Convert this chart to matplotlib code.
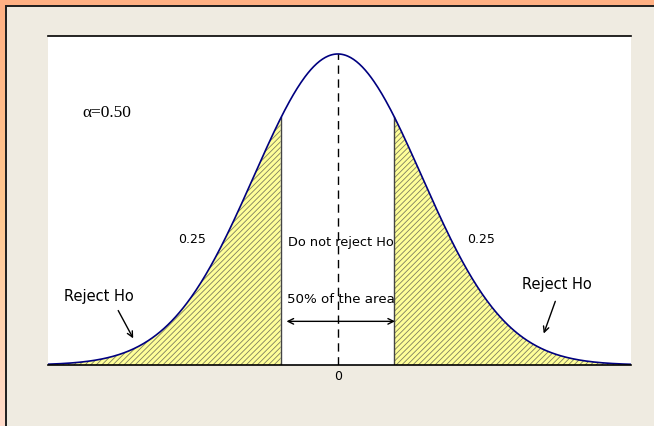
import numpy as np
import matplotlib
matplotlib.use("Agg")
import matplotlib.pyplot as plt
from matplotlib.patches import Rectangle
from matplotlib.colors import LinearSegmentedColormap

# Two-tailed test, alpha = 0.50 split evenly between the tails
alpha      = 0.50
tail_area  = [0.25, 0.25]
z_crit     = 0.674
x_range    = [-3.45, 3.49]
tick_vals  = [0]
tick_labs  = ['0']

x   = np.linspace(x_range[0], x_range[1], 600)
pdf = np.exp(-x**2 / 2) / np.sqrt(2 * np.pi)

plt.rcParams['hatch.color'] = '#7E7E60'
plt.rcParams['hatch.linewidth'] = 0.6

fig = plt.figure(figsize=(6.54, 4.27), dpi=100)

# orange border fading towards the bottom
bg = fig.add_axes([0, 0, 1, 1], zorder=-20)
bg.axis('off')
border = LinearSegmentedColormap.from_list('border', ['#FFB083', '#FFC890', '#FFDCCB'])
bg.imshow(np.linspace(0, 1, 256)[:, None], aspect='auto', cmap=border,
          extent=[0, 1, 0, 1], origin='upper')

# beige panel behind the plot
panel = Rectangle((6 / 654, -0.01), 1, 1.01 - 7 / 427, transform=fig.transFigure,
                  facecolor='#EFEBE1', edgecolor='#1E1E1E', linewidth=1.4,
                  zorder=-10)
fig.add_artist(panel)

ax = fig.add_axes([48 / 654, 61 / 427, 583 / 654, 329 / 427])
ax.set_facecolor('white')
ax.set_zorder(1)

# shaded rejection regions
yellow = '#FFFF99'
left  = x <= -z_crit
right = x >= z_crit
ax.fill_between(x[left], 0, pdf[left], facecolor=yellow, hatch='//////', linewidth=0)
ax.fill_between(x[right], 0, pdf[right], facecolor=yellow, hatch='//////', linewidth=0)

# critical value boundaries
yc = np.exp(-z_crit**2 / 2) / np.sqrt(2 * np.pi)
ax.plot([-z_crit, -z_crit], [0, yc], color='#444444', lw=1.0)
ax.plot([z_crit, z_crit], [0, yc], color='#444444', lw=1.0)

# curve and centre line
ax.plot(x, pdf, color='#000080', lw=1.2)
ax.plot([0, 0], [0, pdf.max()], color='black', lw=1.0, ls=(0, (6, 4)))

ax.set_xlim(x_range)
ax.set_ylim(0, 0.422)
ax.set_yticks([])
ax.set_xticks(tick_vals)
ax.set_xticklabels(tick_labs, fontsize=9)
ax.tick_params(axis='x', length=0, pad=3)
for side in ['left', 'right']:
    ax.spines[side].set_visible(False)
ax.spines['top'].set_linewidth(1.2)
ax.spines['bottom'].set_linewidth(1.2)

# annotations
ax.text(-3.04, 0.325, '\u03b1=%.2f' % alpha, family='Liberation Serif', fontsize=12.5,
        va='center', ha='left')
ax.text(-1.74, 0.162, '%.2f' % tail_area[0], fontsize=9, ha='center', va='center')
ax.text(1.71, 0.162, '%.2f' % tail_area[1], fontsize=9, ha='center', va='center')
ax.text(0.04, 0.158, 'Do not reject Ho', fontsize=9.3, ha='center', va='center')
ax.text(0.04, 0.085, '50% of the area', fontsize=9.6, ha='center', va='center')
ax.annotate('', xy=(-z_crit + 0.03, 0.056), xytext=(z_crit + 0.04, 0.056),
            arrowprops=dict(arrowstyle='<->', color='black', lw=1.0))

ax.text(-2.85, 0.089, 'Reject Ho', fontsize=10.5, ha='center', va='center')
ax.annotate('', xy=(-2.42, 0.031), xytext=(-2.63, 0.073),
            arrowprops=dict(arrowstyle='->', color='black', lw=1.0))
ax.text(2.61, 0.105, 'Reject Ho', fontsize=10.5, ha='center', va='center')
ax.annotate('', xy=(2.44, 0.037), xytext=(2.60, 0.085),
            arrowprops=dict(arrowstyle='->', color='black', lw=1.0))

fig.savefig('out.png', dpi=100)
